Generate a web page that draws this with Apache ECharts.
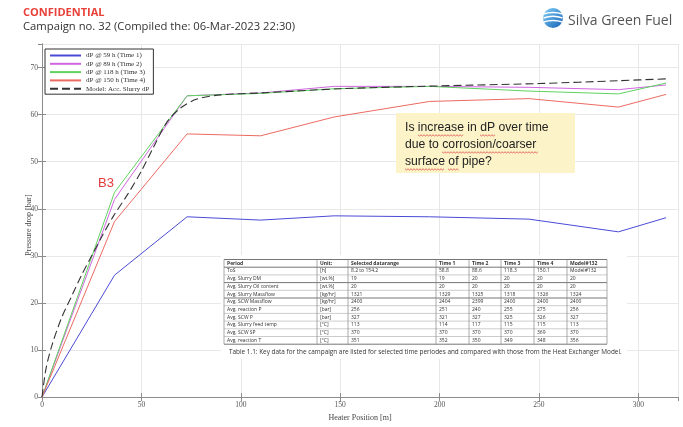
<!DOCTYPE html>
<html><head><meta charset="utf-8">
<script src="https://cdn.jsdelivr.net/npm/echarts@6/dist/echarts.min.js"></script>
<style>html,body{margin:0;padding:0;background:#fff}#c{width:683px;height:427px}</style>
</head><body><div id="c"></div>
<script>
// ---- data ----
const positions = [0, 36.5, 73, 110, 147, 195, 245, 290, 314];
const time1 = [0, 25.9, 38.3, 37.6, 38.5, 38.3, 37.8, 35.1, 38.1];
const time2 = [0, 42.0, 64.0, 64.6, 66.0, 66.0, 65.8, 65.3, 66.3];
const time3 = [0, 43.5, 64.0, 64.5, 65.5, 66.0, 65.0, 64.4, 66.7];
const time4 = [0, 37.3, 55.9, 55.5, 59.5, 62.8, 63.4, 61.6, 64.3];
const modelX = [0, 2, 5, 10, 15, 20, 25, 30, 36, 43, 50, 56, 63, 70, 78, 90, 110, 150, 200, 250, 290, 314];
const modelY = [0, 6, 11, 17, 21.5, 26, 30, 34, 38.5, 43, 48, 53, 58.5, 61.5, 63.3, 64.2, 64.6, 65.5, 66.1, 66.6, 67.2, 67.6];
const seriesNames = ['dP @ 59 h (Time 1)', 'dP @ 89 h (Time 2)', 'dP @ 118 h (Time 3)', 'dP @ 150 h (Time 4)', 'Model: Acc. Slurry dP'];
const tableHeader = ['Period', 'Unit:', 'Selected datarange', 'Time 1', 'Time 2', 'Time 3', 'Time 4', 'Model#132'];
const tableRows = [
  ['ToS', '[h]', '8.2 to 154.2', '58.8', '88.6', '118.3', '150.1', 'Model#132'],
  ['Avg. Slurry DM', '[wt.%]', '19', '19', '20', '20', '20', '20'],
  ['Avg. Slurry Oil content', '[wt.%]', '20', '20', '20', '20', '20', '20'],
  ['Avg. Slurry Massflow', '[kg/hr]', '1321', '1329', '1325', '1318', '1326', '1324'],
  ['Avg. SCW Massflow', '[kg/hr]', '2400', '2404', '2399', '2400', '2400', '2400'],
  ['Avg. reaction P', '[bar]', '256', '251', '240', '255', '275', '256'],
  ['Avg. SCW P', '[bar]', '327', '321', '327', '325', '326', '327'],
  ['Avg. Slurry feed temp', '[°C]', '113', '114', '117', '115', '115', '113'],
  ['Avg. SCW SP', '[°C]', '370', '370', '370', '370', '369', '370'],
  ['Avg. reaction T', '[°C]', '351', '352', '350', '349', '348', '356']
];
const tableCaption = 'Table 1.1: Key data for the campaign are listed for selected time periodes and compared with those from the Heat Exchanger Model.';
const noteLines = ['Is increase in dP over time', 'due to corrosion/coarser', 'surface of pipe?'];

// ---- build ----
const colors = ['#4a4ad6', '#d066e0', '#5fd35f', '#ec6a62', '#333333'];
const pair = (xs, ys) => xs.map((x, i) => [x, ys[i]]);
const serif = 'Liberation Serif';

const colX = [224, 317, 348, 436, 469, 501, 534, 567, 607];
const rowTop = 259.5, rowH = 7.7;
const tableEls = [];
tableEls.push({type: 'rect', shape: {x: 221, y: 255, width: 406, height: 104}, style: {fill: '#fff'}, z: 10});
const nRows = tableRows.length + 1;
for (let r = 0; r <= nRows; r++) {
  const y = rowTop + r * rowH;
  const thick = (r === 0 || r === nRows || r === 1 || r === 5 || r === 3);
  tableEls.push({type: 'line', shape: {x1: colX[0], y1: y, x2: colX[colX.length - 1], y2: y}, style: {stroke: thick ? '#666' : '#aaa', lineWidth: thick ? 0.9 : 0.6}, z: 11});
}
colX.forEach(x => tableEls.push({type: 'line', shape: {x1: x, y1: rowTop, x2: x, y2: rowTop + nRows * rowH}, style: {stroke: '#888', lineWidth: 0.7}, z: 11}));
const allRows = [tableHeader].concat(tableRows);
allRows.forEach((row, r) => row.forEach((t, c) => tableEls.push({
  type: 'text', x: colX[c] + 3, y: rowTop + r * rowH + rowH / 2,
  style: {text: t, fontSize: 5, fontFamily: 'Open Sans', fontWeight: r === 0 ? 'bold' : 'normal', fill: '#333', verticalAlign: 'middle'}, z: 12
})));
tableEls.push({type: 'text', x: 229, y: 352.5, style: {text: tableCaption, fontSize: 6.4, fontFamily: 'Open Sans', fill: '#333', verticalAlign: 'middle'}, z: 12});

const stripe = (y, dy) => ({type: 'bezierCurve', shape: {x1: 553 - 9.5, y1: 18 + y, x2: 553 + 9.5, y2: 18 + y, cpx1: 553, cpy1: 18 + y - dy}, style: {stroke: '#fff', lineWidth: 1.4, fill: null}, z: 5});

// spell-check style wavy underline (decoration)
const wavy = (x1, x2, y) => {
  const pts = [];
  for (let x = x1, k = 0; x <= x2; x += 1.5, k++) pts.push([x, y + (k % 2 ? 1 : -0.2)]);
  return {type: 'polyline', shape: {points: pts}, style: {stroke: '#e04a4a', lineWidth: 0.8, fill: null}, z: 22};
};

const chart = echarts.init(document.getElementById('c'), null, {renderer: 'canvas'});
const axisCommon = {
  axisLine: {show: true, lineStyle: {color: '#8c8c8c', width: 1}},
  axisTick: {show: true, inside: true, length: 4, lineStyle: {color: '#8c8c8c'}},
};
chart.setOption({
  backgroundColor: '#fff',
  animation: false,
  grid: {left: 42, right: 5, top: 44, bottom: 26, show: false},
  legend: {
    orient: 'vertical', left: 45, top: 49, itemWidth: 31, itemHeight: 8, itemGap: 1.3,
    padding: [3, 4, 2, 4], backgroundColor: '#fff', borderColor: '#333', borderWidth: 1,
    itemStyle: {opacity: 0},
    textStyle: {fontFamily: serif, fontSize: 7, color: '#333'},
    data: seriesNames
  },
  xAxis: [
    Object.assign({type: 'value', min: 0, max: 320, interval: 50, name: 'Heater Position [m]', nameLocation: 'middle', nameGap: 13,
      nameTextStyle: {fontFamily: serif, fontSize: 8, color: '#444'},
      axisLabel: {fontFamily: serif, fontSize: 7.5, color: '#555', margin: 4, showMaxLabel: false},
      splitLine: {show: true, lineStyle: {color: '#e8e8e8', width: 1}}}, axisCommon),
    Object.assign({type: 'value', position: 'top', min: 0, max: 320, interval: 50, axisLabel: {show: false}, splitLine: {show: false}}, axisCommon)
  ],
  yAxis: [
    Object.assign({type: 'value', min: 0, max: 75, interval: 10,
      axisLabel: {fontFamily: serif, fontSize: 7.5, color: '#555', margin: 4, showMaxLabel: false},
      splitLine: {show: true, lineStyle: {color: '#e8e8e8', width: 1}}}, axisCommon),
    Object.assign({type: 'value', position: 'right', min: 0, max: 75, interval: 10, axisLabel: {show: false}, splitLine: {show: false}}, axisCommon)
  ],
  series: [
    {name: seriesNames[0], type: 'line', data: pair(positions, time1), color: colors[0], symbol: 'none', lineStyle: {width: 1}},
    {name: seriesNames[1], type: 'line', data: pair(positions, time2), color: colors[1], symbol: 'none', lineStyle: {width: 1}},
    {name: seriesNames[2], type: 'line', data: pair(positions, time3), color: colors[2], symbol: 'none', lineStyle: {width: 1}},
    {name: seriesNames[3], type: 'line', data: pair(positions, time4), color: colors[3], symbol: 'none', lineStyle: {width: 1}},
    {name: seriesNames[4], type: 'line', data: pair(modelX, modelY), color: colors[4], symbol: 'none', smooth: 0.3, lineStyle: {width: 1.1, type: [8, 4]}, z: 3}
  ],
  graphic: [
    {type: 'text', x: 23, y: 7, style: {text: 'CONFIDENTIAL', fontFamily: 'Open Sans', fontWeight: 'bold', fontSize: 11, fill: '#e8413a'}},
    {type: 'text', x: 23, y: 21, style: {text: 'Campaign no. 32 (Compiled the: 06-Mar-2023 22:30)', fontFamily: 'Open Sans', fontSize: 11.25, fill: '#333'}},
    {type: 'circle', shape: {cx: 553, cy: 18, r: 10}, style: {fill: new echarts.graphic.LinearGradient(0, 0, 1, 1, [{offset: 0, color: '#7fd0f5'}, {offset: 1, color: '#1560b8'}])}, z: 4},
    stripe(-4, 3), stripe(0, 3.5), stripe(4, 3),
    {type: 'text', x: 568, y: 21, style: {text: 'Silva Green Fuel', fontFamily: 'Open Sans', fontSize: 14, fill: '#555', verticalAlign: 'middle'}},
    {type: 'text', x: 98, y: 177, style: {text: 'B3', fontFamily: 'Liberation Sans', fontSize: 13, fill: '#e03a3a'}},
    {type: 'text', x: 29, y: 225, rotation: Math.PI / 2, style: {text: 'Pressure drop [bar]', fontFamily: serif, fontSize: 8, fill: '#444', align: 'center', verticalAlign: 'middle'}},
    {type: 'rect', shape: {x: 396, y: 113, width: 179, height: 60}, style: {fill: '#fcf4c8'}, z: 20},
    {type: 'text', x: 405, y: 128, style: {text: noteLines[0], fontFamily: 'Liberation Sans', fontSize: 12.2, fill: '#222', verticalAlign: 'middle'}, z: 21},
    {type: 'text', x: 405, y: 145, style: {text: noteLines[1], fontFamily: 'Liberation Sans', fontSize: 12.2, fill: '#222', verticalAlign: 'middle'}, z: 21},
    {type: 'text', x: 405, y: 162, style: {text: noteLines[2], fontFamily: 'Liberation Sans', fontSize: 12.2, fill: '#222', verticalAlign: 'middle'}, z: 21},
    wavy(418, 464, 135), wavy(480, 495, 135), wavy(442, 539, 152), wavy(405, 445, 169), wavy(448, 459, 169)
  ].concat(tableEls)
});
</script></body></html>
